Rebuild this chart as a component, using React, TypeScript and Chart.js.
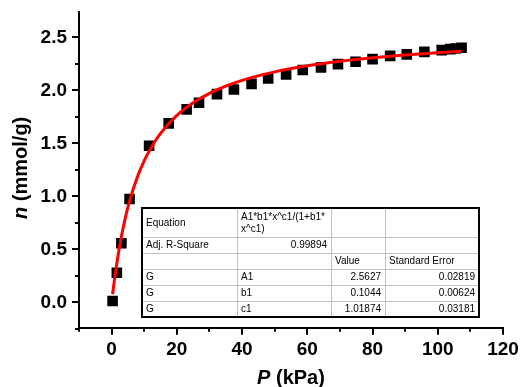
import { useEffect, useRef } from "react";
import { Chart, registerables } from "chart.js";

Chart.register(...registerables);

// Measured isotherm points: pressure (kPa) and uptake n (mmol/g)
const pressureKPa = [0.3, 1.6, 3.0, 5.5, 11.5, 17.5, 23.0, 26.8, 32.3, 37.5, 42.9, 48.0, 53.5, 58.6, 64.2, 69.4, 74.8, 80.0, 85.4, 90.5, 95.9, 101.2, 103.8, 105.5, 107.3];
const uptake = [0.012, 0.279, 0.557, 0.975, 1.477, 1.689, 1.821, 1.883, 1.965, 2.009, 2.062, 2.113, 2.151, 2.192, 2.217, 2.248, 2.27, 2.295, 2.326, 2.34, 2.364, 2.38, 2.39, 2.395, 2.402];

// Fitted (red) curve
const fitPressure = [0.3, 0.5, 1, 2, 3, 4, 5, 6, 8, 10, 12, 15, 20, 25, 30, 35, 40, 50, 60, 70, 80, 90, 100, 107.3];
const fitUptake = [0.076, 0.126, 0.242, 0.447, 0.621, 0.769, 0.897, 1.008, 1.191, 1.337, 1.455, 1.595, 1.764, 1.883, 1.972, 2.04, 2.095, 2.175, 2.233, 2.275, 2.308, 2.334, 2.356, 2.369];

// Axis ticks
const xMajorTicks = [0, 20, 40, 60, 80, 100, 120];
const xMinorTicks = [-10, 10, 30, 50, 70, 90, 110];
const yMajorTicks = [0, 0.5, 1.0, 1.5, 2.0, 2.5];
const yMinorTicks = [-0.25, 0.25, 0.75, 1.25, 1.75, 2.25];

const xTitleItalic = "P";
const xTitleRest = " (kPa)";
const yTitleItalic = "n";
const yTitleRest = " (mmol/g)";

// Fit result table
const tableCol1 = ["Equation", "Adj. R-Square", "", "G", "G", "G"];
const tableCol2 = ["A1*b1*x^c1/(1+b1*\nx^c1)", "0.99894", "", "A1", "b1", "c1"];
const tableCol3 = ["", "", "Value", "2.5627", "0.1044", "1.01874"];
const tableCol4 = ["", "", "Standard Error", "0.02819", "0.00624", "0.03181"];

const FONT = "'Liberation Sans', Arial, sans-serif";

const decorPlugin = {
  id: "decor",
  afterDraw(chart: any) {
    const ctx = chart.ctx as CanvasRenderingContext2D;
    const xs = chart.scales.x;
    const ys = chart.scales.y;
    const { left, bottom, top, right } = chart.chartArea;
    ctx.save();
    ctx.strokeStyle = "#000";
    ctx.lineWidth = 2;
    const drawX = (v: number, len: number) => {
      const p = Math.round(xs.getPixelForValue(v));
      ctx.beginPath();
      ctx.moveTo(p, bottom);
      ctx.lineTo(p, bottom + len);
      ctx.stroke();
    };
    const drawY = (v: number, len: number) => {
      const p = Math.round(ys.getPixelForValue(v));
      ctx.beginPath();
      ctx.moveTo(left, p);
      ctx.lineTo(left - len, p);
      ctx.stroke();
    };
    xMajorTicks.forEach((v) => drawX(v, 7));
    xMinorTicks.forEach((v) => drawX(v, 4));
    yMajorTicks.forEach((v) => drawY(v, 7));
    yMinorTicks.forEach((v) => drawY(v, 4));

    // axis titles
    ctx.fillStyle = "#000";
    ctx.textBaseline = "alphabetic";
    const boldItalic = `italic bold 20px ${FONT}`;
    const bold = `bold 20px ${FONT}`;
    ctx.font = boldItalic;
    const wXi = ctx.measureText(xTitleItalic).width;
    ctx.font = bold;
    const wXr = ctx.measureText(xTitleRest).width;
    const cx = (left + right) / 2;
    const x0 = cx - (wXi + wXr) / 2;
    ctx.font = boldItalic;
    ctx.textAlign = "left";
    ctx.fillText(xTitleItalic, x0, 384);
    ctx.font = bold;
    ctx.fillText(xTitleRest, x0 + wXi, 384);

    ctx.font = boldItalic;
    const wYi = ctx.measureText(yTitleItalic).width;
    ctx.font = bold;
    const wYr = ctx.measureText(yTitleRest).width;
    const cy = (top + bottom) / 2 - 2;
    ctx.save();
    ctx.translate(27, cy);
    ctx.rotate(-Math.PI / 2);
    const y0 = -(wYi + wYr) / 2;
    ctx.font = boldItalic;
    ctx.fillText(yTitleItalic, y0, 0);
    ctx.font = bold;
    ctx.fillText(yTitleRest, y0 + wYi, 0);
    ctx.restore();

    // table
    const cols = [142, 237, 331, 385, 479];
    const rows = [208, 237, 253, 269, 285, 301, 317];
    ctx.fillStyle = "#fff";
    ctx.fillRect(cols[0], rows[0], cols[4] - cols[0], rows[6] - rows[0]);
    ctx.strokeStyle = "#c0c0c0";
    ctx.lineWidth = 1;
    for (let i = 1; i < rows.length - 1; i++) {
      ctx.beginPath();
      ctx.moveTo(cols[0], rows[i] + 0.5);
      ctx.lineTo(cols[4], rows[i] + 0.5);
      ctx.stroke();
    }
    for (let i = 1; i < cols.length - 1; i++) {
      ctx.beginPath();
      ctx.moveTo(cols[i] + 0.5, rows[0]);
      ctx.lineTo(cols[i] + 0.5, rows[6]);
      ctx.stroke();
    }
    ctx.strokeStyle = "#000";
    ctx.lineWidth = 2;
    ctx.strokeRect(cols[0], rows[0], cols[4] - cols[0], rows[6] - rows[0]);

    ctx.fillStyle = "#000";
    ctx.font = `10px ${FONT}`;
    ctx.textBaseline = "middle";
    const colsText = [tableCol1, tableCol2, tableCol3, tableCol4];
    for (let r = 0; r < 6; r++) {
      const mid = (rows[r] + rows[r + 1]) / 2 + 0.5;
      for (let c = 0; c < 4; c++) {
        const txt = colsText[c][r];
        if (!txt) continue;
        const rightAlign = (r === 1 && c === 1) || (r >= 3 && c >= 2);
        const lines = txt.split("\n");
        lines.forEach((ln, i) => {
          const yy = mid + (i - (lines.length - 1) / 2) * 12;
          if (rightAlign) {
            ctx.textAlign = "right";
            ctx.fillText(ln, cols[c + 1] - 4, yy);
          } else {
            ctx.textAlign = "left";
            ctx.fillText(ln, cols[c] + 4, yy);
          }
        });
      }
    }
    ctx.restore();
  },
};

export default function App() {
  const ref = useRef<HTMLCanvasElement | null>(null);
  useEffect(() => {
    if (!ref.current) return;
    const chart = new Chart(ref.current, {
      type: "scatter",
      data: {
        datasets: [
          {
            type: "line",
            label: "fit",
            data: fitPressure.map((x, i) => ({ x, y: fitUptake[i] })),
            borderColor: "#ff0000",
            backgroundColor: "#ff0000",
            borderWidth: 3,
            pointRadius: 0,
            fill: false,
            cubicInterpolationMode: "monotone",
            order: 0,
          } as any,
          {
            type: "scatter",
            label: "data",
            data: pressureKPa.map((x, i) => ({ x, y: uptake[i] })),
            pointStyle: "rect",
            pointRadius: 7.5,
            pointBackgroundColor: "#000",
            pointBorderWidth: 0,
            backgroundColor: "#000",
            order: 1,
          } as any,
        ],
      },
      options: {
        animation: false,
        responsive: false,
        devicePixelRatio: 1,
        layout: { padding: { top: 12, right: 19, left: 0, bottom: 0 } },
        plugins: { legend: { display: false }, tooltip: { enabled: false } },
        scales: {
          x: {
            type: "linear",
            min: -10,
            max: 120,
            grid: { display: false },
            border: { display: true, color: "#000", width: 2 },
            afterBuildTicks: (s: any) => {
              s.ticks = xMajorTicks.map((v) => ({ value: v }));
            },
            afterFit: (s: any) => {
              s.height = 59.3;
              s.paddingLeft = 0;
              s.paddingRight = 0;
            },
            ticks: {
              color: "#000",
              padding: 3,
              maxRotation: 0,
              autoSkip: false,
              font: { family: FONT, weight: "bold", size: 19 },
            },
          },
          y: {
            type: "linear",
            min: -0.24,
            max: 2.74,
            grid: { display: false },
            border: { display: true, color: "#000", width: 2 },
            afterBuildTicks: (s: any) => {
              s.ticks = yMajorTicks.map((v) => ({ value: v }));
            },
            afterFit: (s: any) => {
              s.width = 79;
              s.paddingTop = 0;
              s.paddingBottom = 0;
            },
            ticks: {
              color: "#000",
              padding: 4,
              autoSkip: false,
              callback: (v: any) => Number(v).toFixed(1),
              font: { family: FONT, weight: "bold", size: 19 },
            },
          },
        },
      } as any,
      plugins: [decorPlugin],
    });
    return () => chart.destroy();
  }, []);
  return (
    <div style={{ position: "fixed", left: 0, top: 0, width: 522, height: 387, background: "#fff" }}>
      <canvas ref={ref} width={522} height={387} style={{ width: 522, height: 387, display: "block" }} />
    </div>
  );
}
